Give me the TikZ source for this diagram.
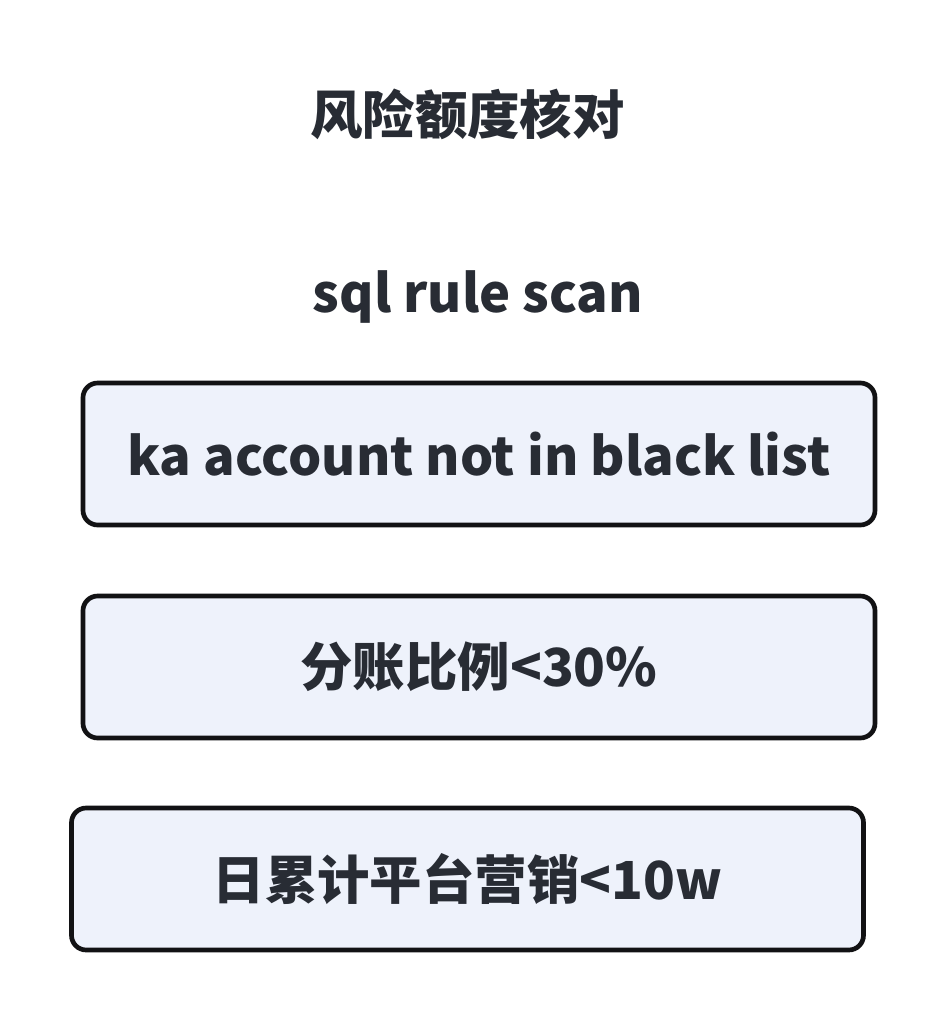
\documentclass[tikz,border=0pt]{standalone}
\usepackage{fontspec}
\setmainfont{Noto Sans CJK SC}
\usepackage{xcolor}
\definecolor{InkGray}{RGB}{40,44,52}
\definecolor{CardFill}{RGB}{238,242,251}
\definecolor{CardEdge}{RGB}{18,18,20}
\begin{document}
\begin{tikzpicture}[x=0.75pt,y=-0.75pt,
  label/.style={text=InkGray,font=\fontsize{39.3}{46}\selectfont\bfseries,inner sep=0pt},
  card/.style={rounded corners=11pt,draw=CardEdge,line width=3.5pt,fill=CardFill,
    minimum width=594pt,minimum height=106.5pt,text=InkGray,
    font=\fontsize{39.3}{46}\selectfont\bfseries}
]
\useasboundingbox[fill=white] (0,0) rectangle (947,1024);
\node[label] (title) at (467.5,114) {风险额度核对};
\node[label] (scan) at (478,297) {sql rule scan};
\node[card] (black) at (479,454) {ka account not in black list};
\node[card] (ratio) at (479,667) {分账比例<30\%};
\node[card] (promo) at (467.5,879) {日累计平台营销<10w};
\end{tikzpicture}
\end{document}
